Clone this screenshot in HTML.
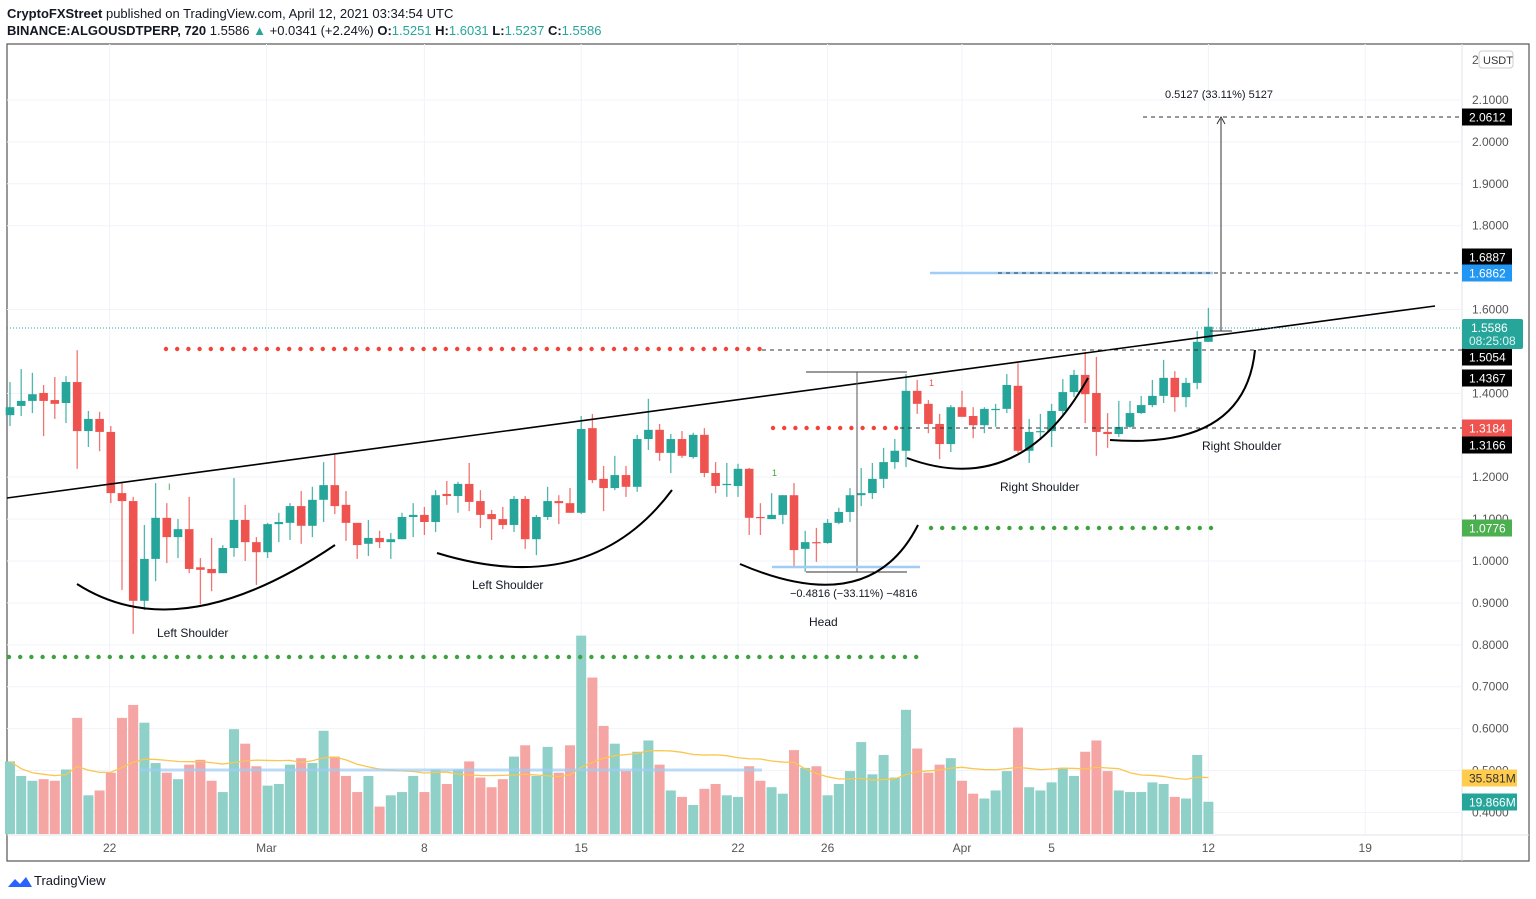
<!DOCTYPE html>
<html><head><meta charset="utf-8"><style>
body{margin:0;background:#fff;}
svg{display:block;font-family:"Liberation Sans",sans-serif;}
</style></head><body>
<svg id="chart" width="1536" height="899" viewBox="0 0 1536 899" xmlns="http://www.w3.org/2000/svg">
<rect width="1536" height="899" fill="#fff"/>
<text x="7" y="18" font-size="13" fill="#131722"><tspan font-weight="bold">CryptoFXStreet</tspan> published on TradingView.com, April 12, 2021 03:34:54 UTC</text>
<text x="7" y="35" font-size="13" fill="#131722"><tspan font-weight="bold">BINANCE:ALGOUSDTPERP, 720</tspan> 1.5586 <tspan fill="#26a69a">▲</tspan> +0.0341 (+2.24%) <tspan font-weight="bold">O:</tspan><tspan fill="#26a69a">1.5251</tspan> <tspan font-weight="bold">H:</tspan><tspan fill="#26a69a">1.6031</tspan> <tspan font-weight="bold">L:</tspan><tspan fill="#26a69a">1.5237</tspan> <tspan font-weight="bold">C:</tspan><tspan fill="#26a69a">1.5586</tspan></text>
<rect x="7" y="44" width="1522" height="817" fill="none" stroke="#555" stroke-width="1.2"/>
<line x1="1462" y1="44" x2="1462" y2="861" stroke="#e0e3eb"/>
<line x1="7" y1="835" x2="1529" y2="835" stroke="#e0e3eb"/>
<g id="grid"></g>
<g id="annot-under"></g>
<g id="volume"></g>
<g id="candles"></g>
<g id="annot"></g>
<g id="axis"></g>
<g>
<path d="M8 887 l7 -8 l5 5 l6 -7 l6 10 z" fill="#2962ff"/>
<text x="34" y="885" font-size="13" fill="#131722">TradingView</text>
</g>
</svg>
<script>
const opens=[1.348,1.370,1.382,1.401,1.384,1.377,1.427,1.310,1.339,1.308,1.162,1.143,0.905,1.005,1.103,1.057,1.076,0.985,0.981,0.971,1.031,1.098,1.045,1.021,1.088,1.091,1.131,
1.084,1.146,1.181,1.134,1.091,1.041,1.055,1.045,1.052,1.105,1.110,1.093,1.160,1.155,1.184,1.143,1.112,1.100,1.086,1.148,1.052,1.105,1.143,1.138,1.115,1.317,1.196,
1.174,1.205,1.177,1.291,1.313,1.258,1.291,1.248,1.301,1.210,1.181,1.179,1.220,1.105,1.100,1.110,1.157,1.029,1.045,1.043,1.091,1.117,1.157,1.162,1.196,1.236,1.263,
1.406,1.375,1.327,1.279,1.367,1.346,1.324,1.360,1.363,1.418,1.263,1.308,1.310,1.358,1.403,1.444,1.401,1.308,1.303,1.320,1.353,1.372,1.394,1.437,1.391,1.425,1.523];
const highs=[1.427,1.458,1.449,1.420,1.439,1.441,1.503,1.358,1.356,1.322,1.186,1.153,1.086,1.186,1.138,1.100,1.153,1.007,1.055,1.038,1.198,1.134,1.057,1.091,1.115,1.138,1.167,
1.177,1.236,1.253,1.167,1.091,1.098,1.072,1.067,1.115,1.138,1.129,1.169,1.191,1.189,1.234,1.169,1.122,1.129,1.155,1.155,1.110,1.177,1.157,1.174,1.346,1.351,1.227,
1.251,1.227,1.301,1.387,1.327,1.303,1.310,1.306,1.317,1.236,1.234,1.232,1.222,1.138,1.162,1.157,1.186,1.072,1.079,1.100,1.127,1.174,1.222,1.234,1.270,1.291,1.446,
1.432,1.384,1.351,1.372,1.406,1.367,1.367,1.375,1.446,1.472,1.339,1.351,1.375,1.434,1.456,1.499,1.487,1.353,1.382,1.382,1.394,1.432,1.480,1.453,1.437,1.549,1.604];
const lows=[1.322,1.346,1.353,1.298,1.339,1.329,1.220,1.272,1.262,1.138,0.931,0.826,0.883,0.952,0.995,1.007,0.971,0.897,0.928,0.971,1.010,1.000,0.943,1.007,1.045,1.050,1.041,
1.057,1.093,1.112,1.048,1.005,1.012,1.031,1.005,1.052,1.057,1.062,1.069,1.134,1.115,1.119,1.079,1.050,1.076,1.069,1.029,1.014,1.098,1.088,1.115,1.112,1.186,1.119,
1.169,1.153,1.165,1.265,1.239,1.210,1.246,1.244,1.200,1.162,1.153,1.153,1.062,1.062,1.100,1.088,0.983,0.974,0.998,1.041,1.088,1.093,1.131,1.148,1.174,1.220,1.224,
1.351,1.305,1.243,1.260,1.344,1.293,1.305,1.320,1.353,1.258,1.234,1.289,1.272,1.344,1.391,1.329,1.251,1.270,1.296,1.318,1.351,1.367,1.377,1.356,1.367,1.410,1.523];
const closes=[1.367,1.382,1.398,1.382,1.375,1.427,1.310,1.339,1.308,1.162,1.143,0.905,1.005,1.103,1.057,1.076,0.981,0.979,0.971,1.031,1.098,1.045,1.021,1.088,1.093,1.131,1.084,
1.146,1.181,1.131,1.091,1.038,1.055,1.045,1.052,1.105,1.110,1.093,1.157,1.155,1.184,1.141,1.110,1.100,1.086,1.148,1.052,1.105,1.143,1.138,1.115,1.315,1.193,1.174,
1.205,1.177,1.291,1.313,1.258,1.291,1.251,1.301,1.210,1.179,1.184,1.220,1.103,1.103,1.110,1.157,1.026,1.045,1.043,1.091,1.117,1.157,1.162,1.196,1.236,1.263,1.406,
1.375,1.327,1.279,1.367,1.344,1.324,1.363,1.363,1.420,1.263,1.308,1.310,1.358,1.403,1.444,1.398,1.308,1.303,1.320,1.353,1.372,1.394,1.437,1.391,1.425,1.523,1.559];
const volumes=[45,36,33,34,33,40,72,24,27,38,72,80,69,44,38,34,43,46,33,26,65,56,42,30,31,43,47,
44,64,48,36,26,36,17,24,26,36,26,40,31,40,45,35,29,34,48,55,36,54,38,55,123,97,67,
56,39,51,58,43,27,23,18,28,31,24,23,42,33,29,25,52,41,42,24,31,39,57,37,49,35,77,
53,38,43,47,33,25,22,27,39,66,29,27,32,41,36,51,58,39,27,26,26,32,31,23,22,49,20];
const priceTicks=["2.1000","2.0000","1.9000","1.8000","1.6000","1.4000","1.2000","1.1000","1.0000","0.9000","0.8000","0.7000","0.6000","0.5000","0.4000"];
const dateTicks=["22","Mar","8","15","22","26","Apr","5","12","19"];
const dateIndex=[8.9,22.9,37,51,65,73,85,93,107,121];

const NS="http://www.w3.org/2000/svg";
const yP=p=>561-(p-1)*419.1;
const xI=i=>10+i*11.2;
const yV=v=>834-v/0.62;
function mk(tag,attrs,parent){const e=document.createElementNS(NS,tag);for(const k in attrs)e.setAttribute(k,attrs[k]);parent.appendChild(e);return e;}
const G=id=>document.getElementById(id);
const GREEN="#26a69a",RED="#ef5350";

// grid
const grid=G("grid");
priceTicks.forEach(t=>{const y=yP(parseFloat(t));const l=mk("line",{x1:7,x2:1462,y1:y,y2:y,stroke:"#f0f3fa"},grid);

});
dateIndex.forEach(d=>{const x=xI(d);const l=mk("line",{x1:x,x2:x,y1:44,y2:835,stroke:"#f0f3fa"},grid);

});

// volume
const vol=G("volume");
volumes.forEach((v,i)=>{const up=closes[i]>=opens[i];const r=mk("rect",{x:xI(i)-5,y:yV(v),width:10,height:834-yV(v),fill:up?"#8fd0c8":"#f5a5a3"},vol);

});
let ma=[];volumes.forEach((v,i)=>{const s=volumes.slice(Math.max(0,i-19),i+1);ma.push(s.reduce((a,b)=>a+b,0)/s.length);});
const maPath=mk("path",{d:ma.map((m,i)=>(i?"L":"M")+xI(i)+" "+yV(m)).join(" "),fill:"none",stroke:"#f9c74f","stroke-width":1.3},vol);


const vb=mk("line",{x1:140,x2:762,y1:770,y2:770,stroke:"#9fcdf5","stroke-width":3,opacity:0.7},vol);



// candles
const cg=G("candles");
opens.forEach((o,i)=>{const c=closes[i];const col=c>=o?GREEN:RED;const x=xI(i);
const w=mk("line",{x1:x,x2:x,y1:yP(highs[i]),y2:yP(lows[i]),stroke:col,"stroke-width":1.3,opacity:0.8},cg);


const top=yP(Math.max(o,c)),bot=yP(Math.min(o,c));
const b=mk("rect",{x:x-4.3,y:top,width:8.6,height:Math.max(1.2,bot-top),fill:col},cg);

});

// annotations
const an=G("annot");
function line(a,name,parent){const l=mk("line",a,parent||an);return l;}
function dots(x1,x2,y,col,step,name){const g=mk("g",{},an);for(let x=x1;x<=x2;x+=step)mk("circle",{cx:x,cy:y,r:2.2,fill:col},g);}
line({x1:7,y1:498,x2:1435,y2:306,stroke:"#000","stroke-width":1.6},"neckline");
dots(166,762,349,"#f44336",11.2,"resistance-dots");
line({x1:762,x2:1462,y1:350,y2:350,stroke:"#333","stroke-dasharray":"4 4"},"resistance-dashed-line");
dots(773,900,428,"#f44336",11.2,"support-red-dots");
line({x1:900,x2:1462,y1:428,y2:428,stroke:"#333","stroke-dasharray":"4 4"},"support-dashed-line");
dots(9,920,657,"#3ca33c",11.2,"green-dots-low");
dots(931,1213,528,"#3ca33c",11.2,"green-dots-mid");
line({x1:930,x2:1213,y1:273,y2:273,stroke:"#9fcdf5","stroke-width":2.5},"blue-level-line");
line({x1:998,x2:1462,y1:273,y2:273,stroke:"#333","stroke-dasharray":"4 4"},"blue-dashed-line");
line({x1:1143,x2:1462,y1:117,y2:117,stroke:"#333","stroke-dasharray":"4 4"},"target-dashed-line");
line({x1:7,x2:1462,y1:328,y2:328,stroke:"#26a69a","stroke-dasharray":"1 2"},"current-price-line");
line({x1:1221,x2:1221,y1:331,y2:119,stroke:"#333"},"target-arrow");
mk("path",{d:"M1217 124 L1221 117 L1225 124",fill:"none",stroke:"#333"},an);
line({x1:1210,x2:1232,y1:331,y2:331,stroke:"#333"},"target-base");
line({x1:806,x2:907,y1:372,y2:372,stroke:"#333"},"head-measure-top");
line({x1:806,x2:907,y1:572,y2:572,stroke:"#333"},"head-measure-bottom");
line({x1:857,x2:857,y1:372,y2:572,stroke:"#555"},"head-measure-vertical");
line({x1:772,x2:920,y1:567,y2:567,stroke:"#9fcdf5","stroke-width":2.5},"head-blue-line");
function arc(d,name){const p=mk("path",{d:d,fill:"none",stroke:"#000","stroke-width":2},an);}
arc("M77 584 Q180 650 335 545","left-shoulder-arc-1");
arc("M437 553 Q590 600 672 490","left-shoulder-arc-2");
arc("M740 564 Q870 620 918 525","head-arc");
arc("M907 458 Q1020 500 1088 378","right-shoulder-arc-1");
arc("M1110 440 Q1245 450 1255 350","right-shoulder-arc-2");
function txt(x,y,s,name,size,col,anchor){const t=mk("text",{x:x,y:y,"font-size":size||12,fill:col||"#131722","text-anchor":anchor||"start"},an);t.textContent=s;return t;}
txt(157,637,"Left Shoulder","left-shoulder-label-1");
txt(472,589,"Left Shoulder","left-shoulder-label-2");
txt(809,626,"Head","head-label");
txt(1000,491,"Right Shoulder","right-shoulder-label-1");
txt(1202,450,"Right Shoulder","right-shoulder-label-2");
txt(1165,98,"0.5127 (33.11%) 5127","target-measure-label",11);
txt(790,597,"\u22120.4816 (\u221233.11%) \u22124816","head-measure-label",11);
txt(168,490,"I","marker-green",9,"#3ca33c");
txt(772,476,"1","marker-green-2",9,"#3ca33c");
txt(929,386,"1","marker-red",9,"#ef5350");

// axis
const ax=G("axis");
priceTicks.forEach(t=>{const tt=mk("text",{x:1472,y:yP(parseFloat(t))+4,"font-size":12,fill:"#555"},ax);tt.textContent=t;

});
dateTicks.forEach((t,i)=>{const tt=mk("text",{x:xI(dateIndex[i]),y:852,"font-size":12,fill:"#555","text-anchor":"middle"},ax);tt.textContent=t;

});
const tc=mk("text",{x:1472,y:64,"font-size":12,fill:"#555"},ax);tc.textContent="2";
const ub=mk("rect",{x:1479,y:51,width:34,height:17,rx:3,fill:"#fff",stroke:"#ccc"},ax);


const ut=mk("text",{x:1483,y:64,"font-size":11,fill:"#333"},ax);ut.textContent="USDT";
const tags=[["2.0612",117,"#000","#fff"],["1.6887",257,"#000","#fff"],["1.6862",273,"#2196f3","#fff"],["1.5054",357,"#000","#fff"],["1.4367",378,"#000","#fff"],["1.3184",428,"#ef5350","#fff"],["1.3166",445,"#000","#fff"],["1.0776",528,"#4caf50","#fff"],["35.581M",778,"#ffcc4d","#333"],["19.866M",802,"#26a69a","#fff"]];
tags.forEach(t=>{const r=mk("rect",{x:1462,y:t[1]-8.5,width:t[0].length>6?55:50,height:17,fill:t[2]},ax);


const tt=mk("text",{x:1469,y:t[1]+4.5,"font-size":12,fill:t[3]},ax);tt.textContent=t[0];});
const cp=mk("rect",{x:1462,y:319,width:61,height:30,rx:2,fill:"#26a69a"},ax);


const c1=mk("text",{x:1471,y:332,"font-size":12,fill:"#fff"},ax);c1.textContent="1.5586";
const c2=mk("text",{x:1469,y:345,"font-size":12,fill:"#e0f2f1"},ax);c2.textContent="08:25:08";
</script>
</body></html>
